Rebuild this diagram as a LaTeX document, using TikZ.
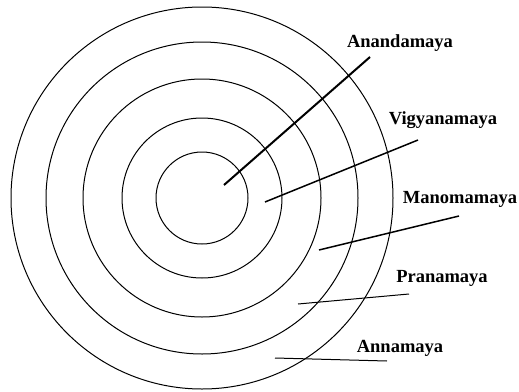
\documentclass[tikz,border=0pt]{standalone}
\usepackage{fontspec}
\setmainfont{Liberation Serif}
\tikzset{
  ring/.style={line width=1pt},
  pointer/.style={line width=1pt},
  sheath/.style={font=\fontsize{18.5pt}{20pt}\selectfont\bfseries}
}
\begin{document}
\begin{tikzpicture}[x=1pt,y=-1pt]
\useasboundingbox (0,0) rectangle (519,391);
\coordinate (c) at (202,198);
\draw[ring] (c) circle (46);
\draw[ring] (c) circle (80);
\draw[ring] (c) circle (119);
\draw[ring] (c) circle (156);
\draw[ring] (c) circle (191);

\node[sheath] (ananda) at (400,43) {Anandamaya};
\node[sheath] (vigyana) at (443,120) {Vigyanamaya};
\node[sheath] (mano) at (460,199) {Manomamaya};
\node[sheath] (prana) at (442,278) {Pranamaya};
\node[sheath] (anna) at (400,348) {Annamaya};

\coordinate (ananda-in) at (224,185);
\coordinate (ananda-out) at (370,57);
\coordinate (vigyana-in) at (265,202);
\coordinate (vigyana-out) at (418,140);
\coordinate (mano-in) at (319,250);
\coordinate (mano-out) at (459,216);
\coordinate (prana-in) at (298,304);
\coordinate (prana-out) at (409,294);
\coordinate (anna-in) at (275,358);
\coordinate (anna-out) at (387,361);

\draw[pointer,line width=2pt] (ananda-in) -- (ananda-out);
\draw[pointer,line width=1.5pt] (vigyana-in) -- (vigyana-out);
\draw[pointer,line width=1.5pt] (mano-in) -- (mano-out);
\draw[pointer] (prana-in) -- (prana-out);
\draw[pointer] (anna-in) -- (anna-out);
\end{tikzpicture}
\end{document}
